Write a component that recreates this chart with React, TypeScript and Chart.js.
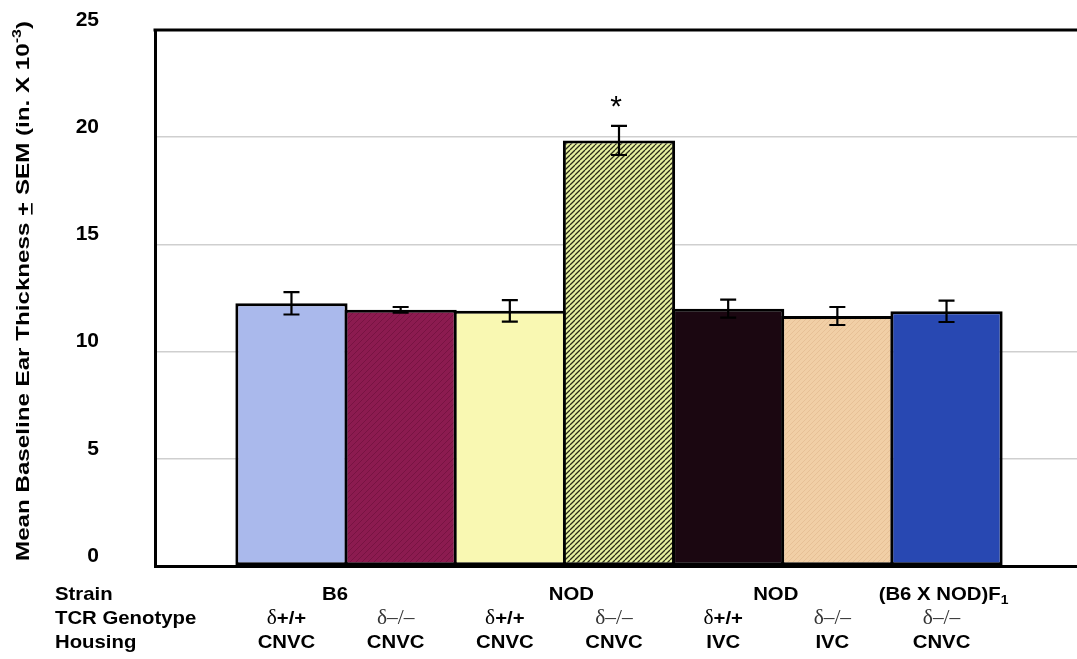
import { useEffect, useRef } from "react";
import { Chart, registerables } from "chart.js";

Chart.register(...registerables);

// ---- data ----
const categories = [
  "B6 δ+/+ CNVC",
  "B6 δ-/- CNVC",
  "NOD δ+/+ CNVC",
  "NOD δ-/- CNVC",
  "NOD δ+/+ IVC",
  "NOD δ-/- IVC",
  "(B6 X NOD)F1 δ-/- CNVC",
];
const meanThickness = [12.25, 11.95, 11.9, 19.85, 12.0, 11.66, 11.88];
const semThickness = [0.52, 0.13, 0.5, 0.68, 0.42, 0.42, 0.5];
const significant = [false, false, false, true, false, false, false];
const strainLabels = ["B6", "NOD", "NOD", "(B6 X NOD)F"];
const strainSubscripts = ["", "", "", "1"];
const strainSpans = [[0, 1], [2, 3], [4, 5], [6, 6]];
const genotypes = ["+/+", "–/–", "+/+", "–/–", "+/+", "–/–", "–/–"];
const housing = ["CNVC", "CNVC", "CNVC", "CNVC", "IVC", "IVC", "CNVC"];
const rowTitles = ["Strain", "TCR Genotype", "Housing"];
const yTicks = [0, 5, 10, 15, 20, 25];

// ---- styles ----
const SANS = "'Liberation Sans', Arial, Helvetica, sans-serif";
const SERIF = "'Liberation Serif', 'Times New Roman', serif";
const CANVAS_W = 1090;
const CANVAS_H = 659;
const strainLabelShift = [-11, 7, -7, -3];

function hatch(base: string, line: string, lw: number, p: number) {
  const c = document.createElement("canvas");
  c.width = p;
  c.height = p;
  const g = c.getContext("2d")!;
  g.fillStyle = base;
  g.fillRect(0, 0, p, p);
  g.strokeStyle = line;
  g.lineWidth = lw;
  g.beginPath();
  for (const o of [-p, 0, p]) {
    g.moveTo(o, p);
    g.lineTo(o + p, 0);
  }
  g.stroke();
  return g.createPattern(c, "repeat")!;
}

type Run = { t: string; font: string; dy?: number; underline?: boolean; color?: string };

function drawRuns(ctx: CanvasRenderingContext2D, runs: Run[], x: number, y: number, align: "left" | "center", sx = 1) {
  ctx.save();
  ctx.textBaseline = "alphabetic";
  ctx.textAlign = "left";
  let total = 0;
  const widths = runs.map((r) => {
    ctx.font = r.font;
    const w = ctx.measureText(r.t).width;
    total += w;
    return w;
  });
  ctx.translate(x, y);
  ctx.scale(sx, 1);
  let cx = align === "center" ? -total / 2 : 0;
  runs.forEach((r, i) => {
    ctx.font = r.font;
    ctx.fillStyle = r.color || "#000";
    ctx.fillText(r.t, cx, r.dy || 0);
    if (r.underline) {
      ctx.fillRect(cx + 1, (r.dy || 0) + 2, widths[i] - 2, 1.6);
    }
    cx += widths[i];
  });
  ctx.restore();
}

const decorPlugin = {
  id: "decor",
  afterDatasetsDraw(chart: any) {
    const ctx: CanvasRenderingContext2D = chart.ctx;
    const xs = chart.scales.x;
    const ys = chart.scales.y;
    const area = chart.chartArea;
    const meta = chart.getDatasetMeta(0);

    // error bars
    ctx.save();
    ctx.strokeStyle = "#000";
    ctx.lineWidth = 2.2;
    meta.data.forEach((bar: any, i: number) => {
      const x = bar.x;
      const yt = ys.getPixelForValue(meanThickness[i] + semThickness[i]);
      const yb = ys.getPixelForValue(meanThickness[i] - semThickness[i]);
      ctx.beginPath();
      ctx.moveTo(x, yt);
      ctx.lineTo(x, yb);
      ctx.moveTo(x - 8, yt);
      ctx.lineTo(x + 8, yt);
      ctx.moveTo(x - 8, yb);
      ctx.lineTo(x + 8, yb);
      ctx.stroke();
      if (significant[i]) {
        ctx.fillStyle = "#000";
        ctx.font = `30px ${SANS}`;
        ctx.textAlign = "center";
        ctx.textBaseline = "alphabetic";
        ctx.fillText("*", x - 3, yt - 10);
      }
    });
    ctx.restore();

    // top frame line
    ctx.save();
    ctx.fillStyle = "#000";
    ctx.fillRect(area.left - 1.5, area.top - 1.5, area.right - area.left + 3, 3);
    ctx.restore();

    // y-axis title
    ctx.save();
    ctx.translate(23, 291);
    ctx.rotate(-Math.PI / 2);
    const tf = `bold 18px ${SANS}`;
    const runs: Run[] = [
      { t: "Mean Baseline Ear Thickness ", font: tf },
      { t: "+", font: tf, underline: true },
      { t: " SEM (in. X 10", font: tf },
      { t: "-3", font: `bold 12px ${SANS}`, dy: -8 },
      { t: ")", font: tf },
    ];
    let total = 0;
    runs.forEach((r) => {
      ctx.font = r.font;
      total += ctx.measureText(r.t).width;
    });
    drawRuns(ctx, runs, 0, 6, "center", 540 / total);
    ctx.restore();

    // category rows
    const rowFont = `bold 19px ${SANS}`;
    const sx = 1.07;
    const rowY = [600, 624, 648];
    rowTitles.forEach((t, r) => drawRuns(ctx, [{ t, font: rowFont }], 55, rowY[r], "left", sx));

    strainLabels.forEach((lab, g) => {
      const [a, b] = strainSpans[g];
      const cx = (xs.getPixelForValue(a) + xs.getPixelForValue(b)) / 2 + strainLabelShift[g];
      const runs: Run[] = [{ t: lab, font: rowFont }];
      if (strainSubscripts[g]) runs.push({ t: strainSubscripts[g], font: `bold 13px ${SANS}`, dy: 4 });
      drawRuns(ctx, runs, cx, rowY[0], "center", sx);
    });

    meta.data.forEach((bar: any, i: number) => {
      const cx = bar.x - 5;
      const g = genotypes[i];
      const runs: Run[] =
        g === "+/+"
          ? [
              { t: "δ", font: `20px ${SERIF}` },
              { t: g, font: rowFont },
            ]
          : [{ t: "δ" + g, font: `20px ${SERIF}`, color: "#333" }];
      drawRuns(ctx, runs, cx, rowY[1], "center", sx);
      drawRuns(ctx, [{ t: housing[i], font: rowFont }], cx, rowY[2], "center", sx);
    });
  },
};

export default function App() {
  const ref = useRef<HTMLCanvasElement | null>(null);

  useEffect(() => {
    const canvas = ref.current!;
    const fills: any[] = [
      "#aab9ec",
      hatch("#8c1b50", "#74123f", 0.8, 6),
      "#f9f8b2",
      hatch("#e6f0a0", "#2b2b18", 1.25, 5),
      "#1b0711",
      hatch("#f1cfa6", "#e4bd92", 0.8, 5),
      "#2848b2",
    ];
    const chart = new Chart(canvas, {
      type: "bar",
      data: {
        labels: categories,
        datasets: [
          {
            label: "Mean baseline ear thickness",
            data: meanThickness.map((v, i) => ({ x: i, y: v })),
            backgroundColor: fills,
            borderColor: "#000",
            borderWidth: 3,
            borderSkipped: false,
            barPercentage: 1.028,
            categoryPercentage: 1,
          },
        ],
      },
      options: {
        animation: false,
        responsive: false,
        devicePixelRatio: 1,
        events: [],
        layout: { padding: { top: 30, right: CANVAS_W - 1083, left: 0, bottom: 0 } },
        plugins: { legend: { display: false }, tooltip: { enabled: false } },
        scales: {
          x: {
            type: "linear",
            min: -1.25,
            max: 7.25,
            offset: false,
            afterBuildTicks: (s: any) => {
              s.ticks = categories.map((_, i) => ({ value: i }));
            },
            afterFit: (s: any) => {
              s.height = CANVAS_H - 566;
              s.paddingLeft = 0;
              s.paddingRight = 0;
            },
            ticks: { display: false },
            grid: { display: false, offset: false, drawTicks: false },
            border: { display: true, color: "#000", width: 3 },
          },
          y: {
            min: 0,
            max: 25,
            afterBuildTicks: (s: any) => {
              s.ticks = yTicks.map((v) => ({ value: v }));
            },
            afterFit: (s: any) => {
              s.width = 155;
              s.paddingTop = 0;
              s.paddingBottom = 0;
            },
            ticks: {
              color: "#000",
              padding: 56,
              labelOffset: -10,
              font: { family: SANS, size: 21, weight: "bold" },
            },
            grid: { color: "#cfcfcf", lineWidth: 1.5, drawTicks: false },
            border: { display: true, color: "#000", width: 3 },
          },
        },
      } as any,
      plugins: [decorPlugin],
    });
    return () => chart.destroy();
  }, []);

  return (
    <div
      style={{
        position: "fixed",
        left: 0,
        top: 0,
        width: 1077,
        height: 659,
        overflow: "hidden",
        background: "#fff",
      }}
    >
      <canvas ref={ref} width={CANVAS_W} height={CANVAS_H} style={{ display: "block" }} />
    </div>
  );
}
